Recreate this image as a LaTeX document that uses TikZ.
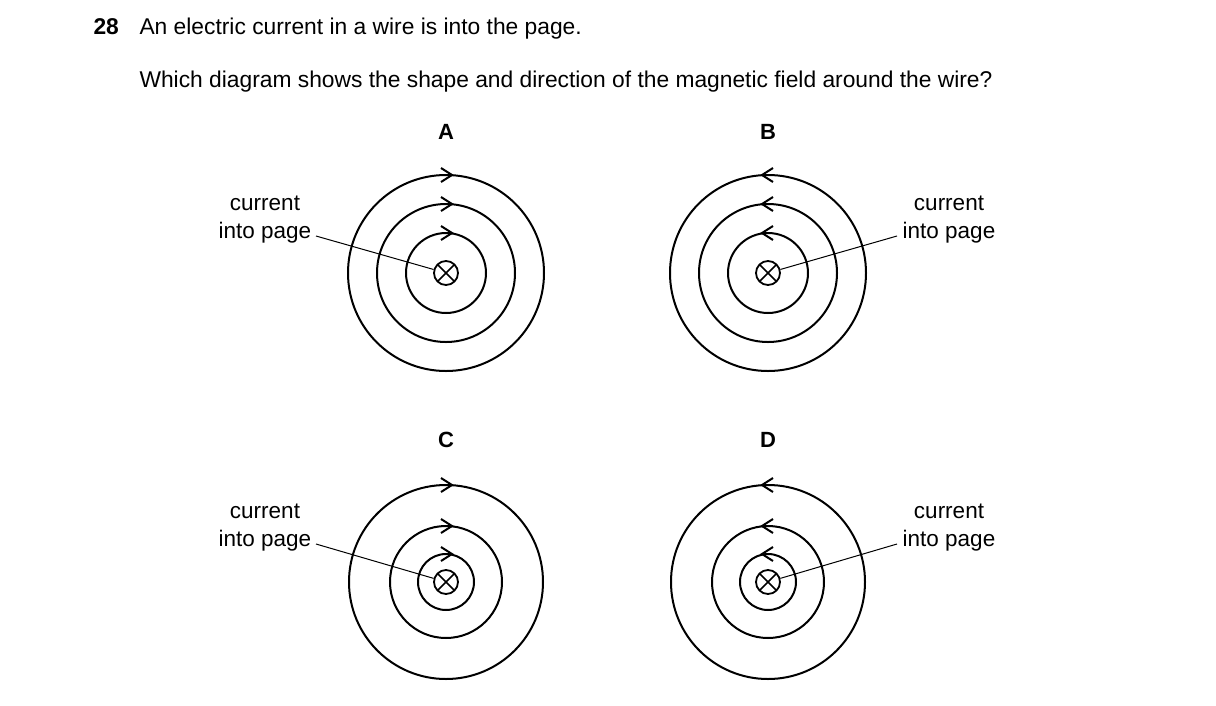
\documentclass[tikz,border=0pt]{standalone}
\usepackage{fontspec}
\setmainfont{Liberation Sans}
\usetikzlibrary{calc, positioning}
\tikzset{
    field/.style={line width=2pt},
    wire/.style={circle, draw, line width=1.8pt, minimum size=24pt, inner sep=0pt,
        path picture={\draw[line width=1.5pt] ([shift={(-8.5pt,-8.5pt)}]path picture bounding box.center) -- ++(17pt,17pt) ([shift={(8.5pt,-8.5pt)}]path picture bounding box.center) -- ++(-17pt,17pt);}},
    lead/.style={line width=1pt},
    caption/.style={font=\fontsize{22.5}{28}\selectfont, align=center},
    letter/.style={font=\fontsize{22}{24}\selectfont\bfseries},
    qtext/.style={font=\fontsize{22.8}{26}\selectfont, anchor=base west}
}
% #1 name, #2 centre, #3 radii, #4 direction (1 right, -1 left)
\newcommand{\fieldset}[4]{
    \node[wire] (#1) at (#2) {};
    \foreach \r in {#3} {
        \draw[field] (#2) circle (\r);
        \draw[field] ($(#2)+(6*#4-11*#4,-\r-7)$) -- ($(#2)+(6*#4,-\r)$) -- ($(#2)+(6*#4-11*#4,-\r+7)$);
    }
}
\begin{document}
\begin{tikzpicture}[x=1pt, y=-1pt]
    \useasboundingbox (0,0) rectangle (1216,705);
    % Question
    \node[qtext, font=\fontsize{22.8}{26}\selectfont\bfseries] (num) at (90,34) {28};
    \node[qtext] (q1) at (136,34) {An electric current in a wire is into the page.};
    \node[qtext] (q2) at (136,87) {Which diagram shows the shape and direction of the magnetic field around the wire?};
    % Letters
    \node[letter] (lA) at (446,132) {A};
    \node[letter] (lB) at (768,132) {B};
    \node[letter] (lC) at (446,440) {C};
    \node[letter] (lD) at (768,440) {D};
    % Fields
    \fieldset{wA}{446,273}{98,69,40}{1}
    \fieldset{wB}{768,273}{98,69,40}{-1}
    \fieldset{wC}{446,582}{97,56,28}{1}
    \fieldset{wD}{768,582}{97,56,28}{-1}
    % Labels
    \node[caption] (cA) at (265,220) {current\\into page};
    \node[caption] (cB) at (949,220) {current\\into page};
    \node[caption] (cC) at (265,528) {current\\into page};
    \node[caption] (cD) at (949,528) {current\\into page};
    \coordinate (eA) at (316,236);
    \coordinate (eB) at (897,236);
    \coordinate (eC) at (316,544);
    \coordinate (eD) at (897,544);
    \draw[lead] (eA) -- (wA);
    \draw[lead] (eB) -- (wB);
    \draw[lead] (eC) -- (wC);
    \draw[lead] (eD) -- (wD);
\end{tikzpicture}
\end{document}
